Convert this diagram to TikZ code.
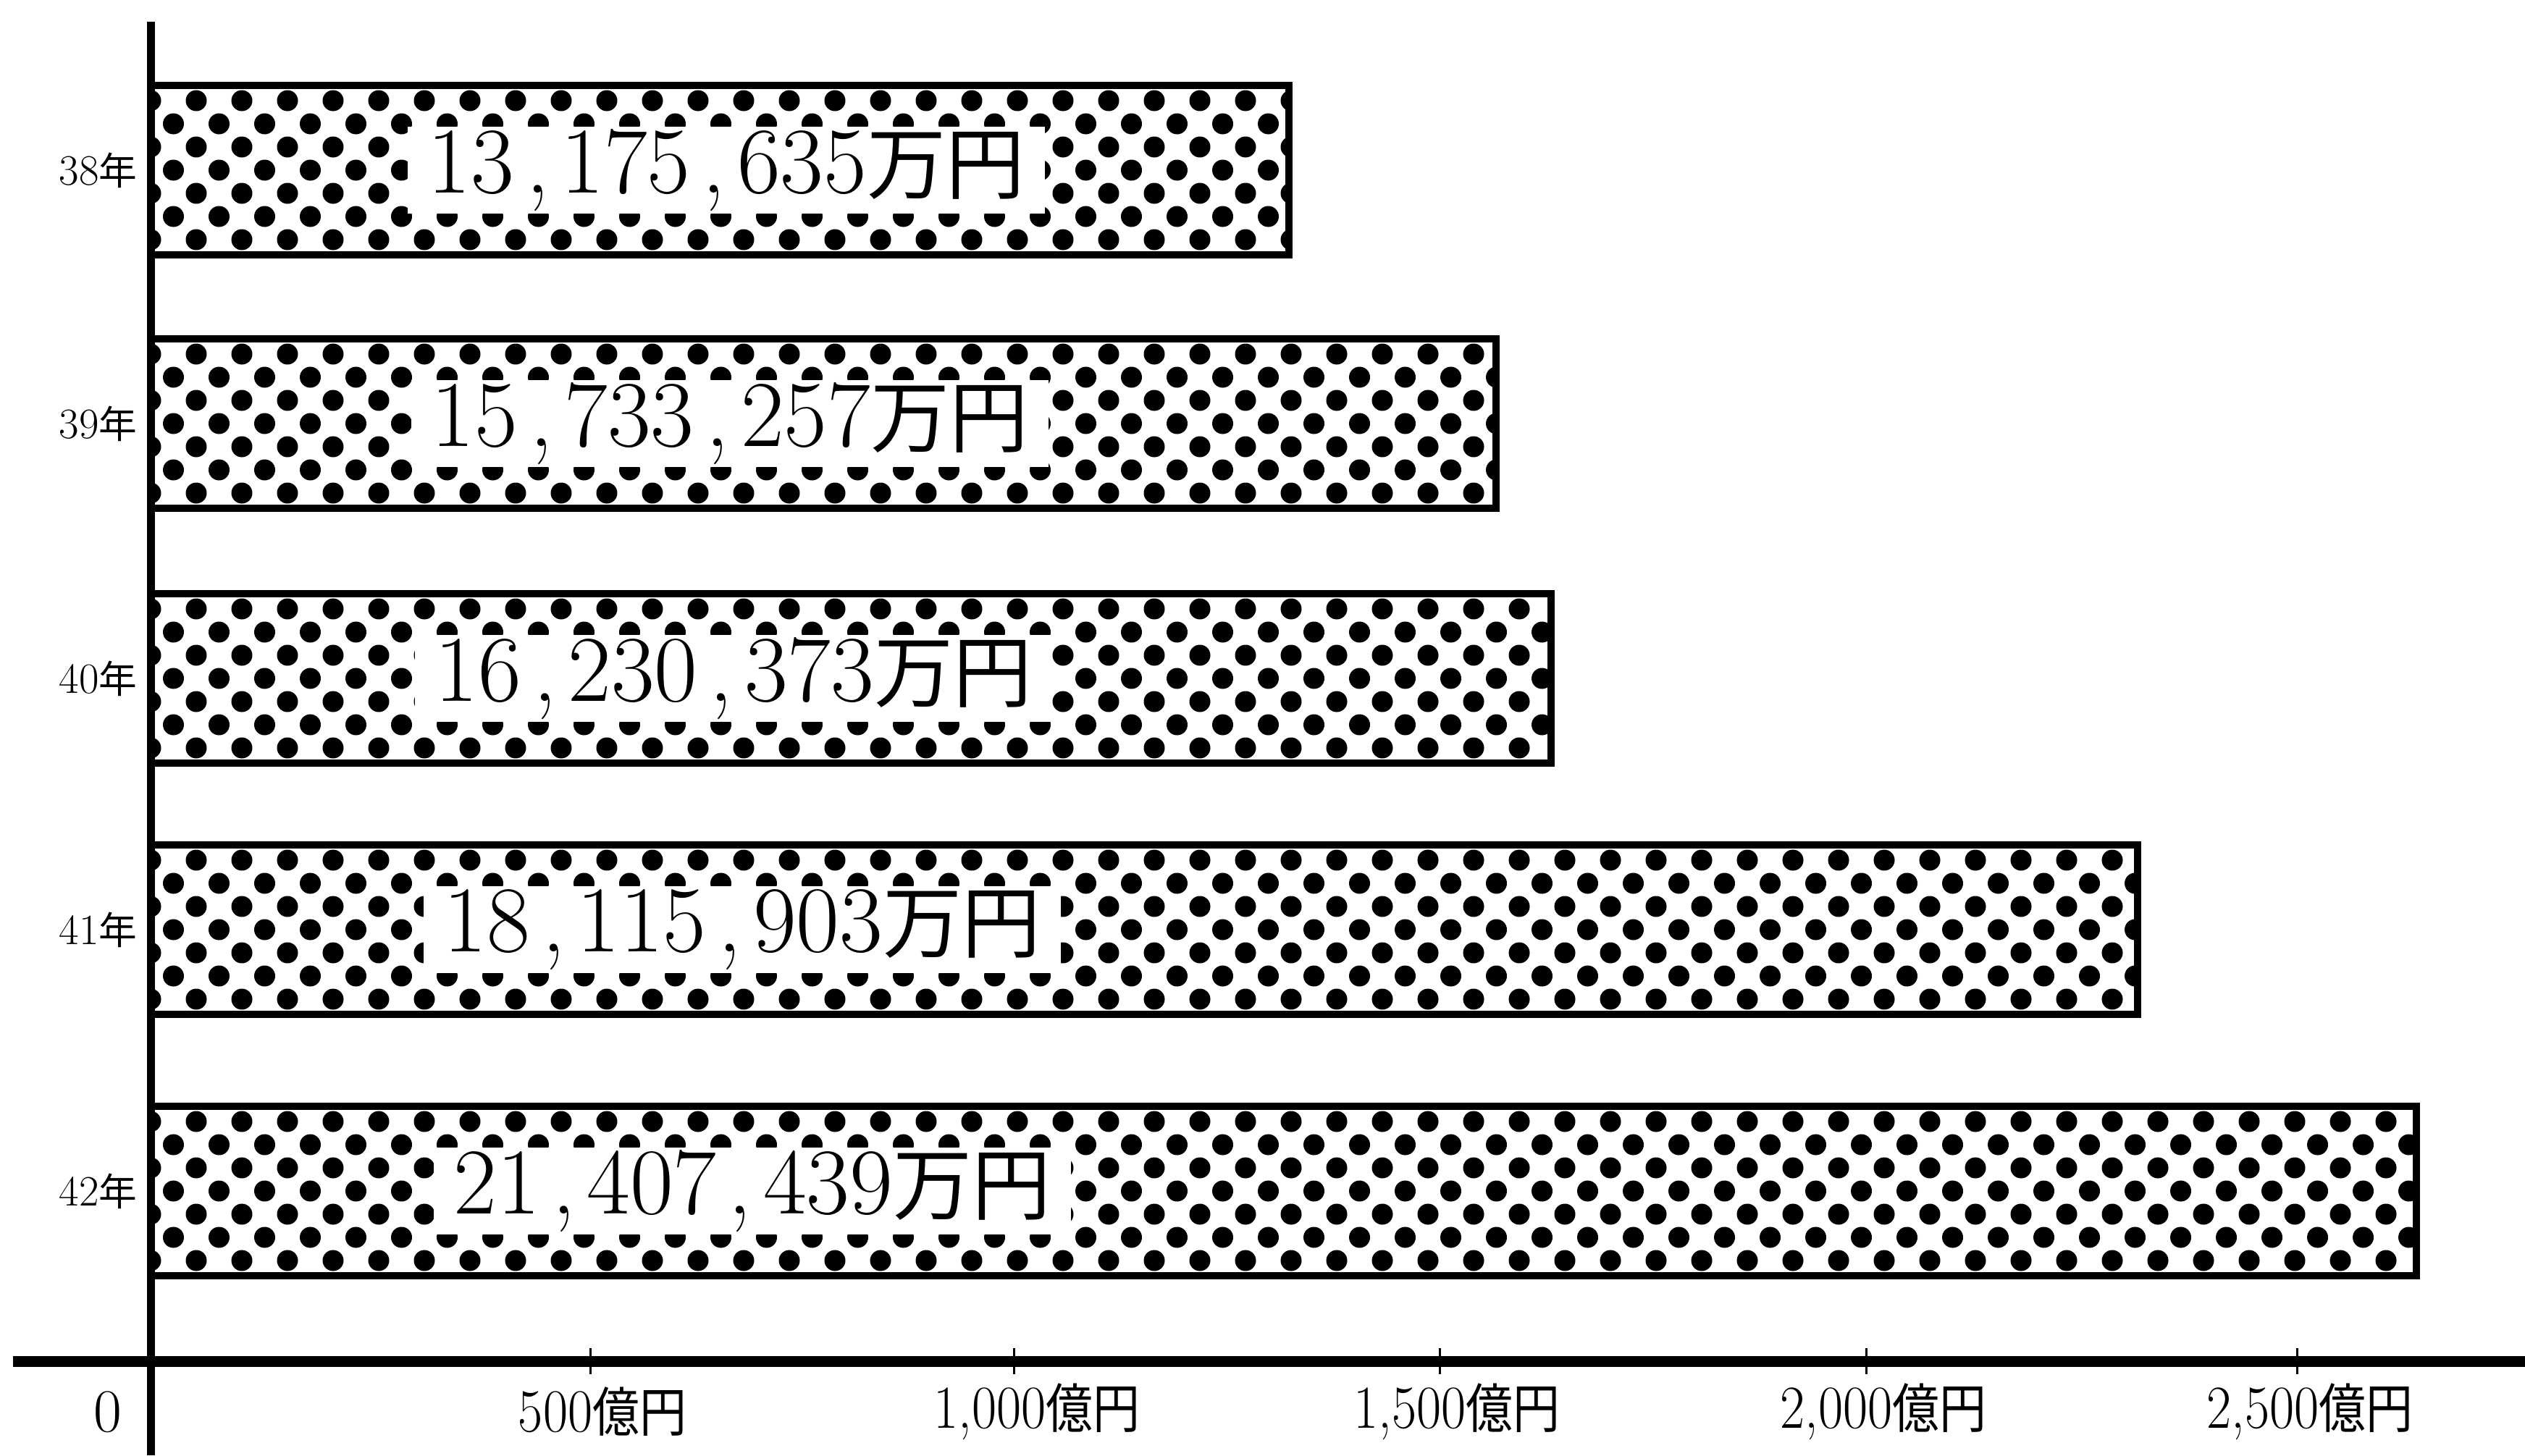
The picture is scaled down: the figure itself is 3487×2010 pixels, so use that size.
\documentclass[tikz,border=0pt]{standalone}
\usepackage{fontspec}
\usepackage{graphicx}
\newfontfamily\jpfont{Noto Sans CJK JP}
\newcommand{\jp}[1]{{\jpfont #1}}
\newcommand{\kcomma}{\hspace{1.6mm},\hspace{1.6mm}}

\begin{document}
\begin{tikzpicture}[x=0.1mm,y=-0.1mm,
    bar/.style={draw,line width=1mm},
    vallabel/.style={fill=white,anchor=west,inner xsep=2.8mm,inner ysep=0pt,minimum height=12mm,font=\fontsize{37}{40}\selectfont},
    yearlabel/.style={anchor=east,inner sep=0pt,font=\fontsize{17}{18}\selectfont},
    ticklabel/.style={inner sep=0pt,font=\fontsize{24}{26}\selectfont}]
    \useasboundingbox (0,0) rectangle (3487,2010);

    % Bars
    \foreach \yr/\yc/\xe/\val/\xt in {38/235/1780/{13\kcomma175\kcomma635}/590, 39/585/2066/{15\kcomma733\kcomma257}/595, 40/937/2142/{16\kcomma230\kcomma373}/600, 41/1284/2952/{18\kcomma115\kcomma903}/612, 42/1645/3337/{21\kcomma407\kcomma439}/626}{
        \begin{scope}
            \clip (208,\yc-117) rectangle (\xe,\yc+117);
            \pgfmathtruncatemacro\nk{(\xe-208)/63+1}
            \foreach \j in {-3,...,3}{
                \pgfmathsetmacro\off{mod(\j+3,2)*31.5}
                \foreach \k in {0,...,\nk}
                    \fill (208+\off+63*\k,\yc+32*\j) circle (1.45mm);
            }
        \end{scope}
        \draw[bar] (208,\yc-117) rectangle (\xe,\yc+117);
        \node[vallabel] (v\yr) at (\xt-28,\yc) {\val\jp{\fontsize{31}{33}\selectfont 万円}};
        \node[yearlabel] (y\yr) at (190,\yc) {\yr\jp{\fontsize{15}{16}\selectfont 年}};
    }

    % Axes
    \draw[line width=1.1mm] (208,30) -- (208,2010);
    \draw[line width=1.5mm] (18,1880) -- (3487,1880);
    \node[ticklabel] (t0) at (149,1950) {0};
    \foreach \t/\xk/\xl/\lab in {500/815/832/{500}, 1000/1400/1432/{1,000}, 1500/1988/2012/{1,500}, 2000/2577/2601/{2,000}, 2500/3172/3190/{2,500}}{
        \draw[line width=0.3mm] (\xk,1862) -- (\xk,1898);
        \node[ticklabel] (t\t) at (\xl,1950) {\scalebox{0.88}[1]{\lab\jp{\fontsize{21}{22}\selectfont 億円}}};
    }
\end{tikzpicture}
\end{document}
